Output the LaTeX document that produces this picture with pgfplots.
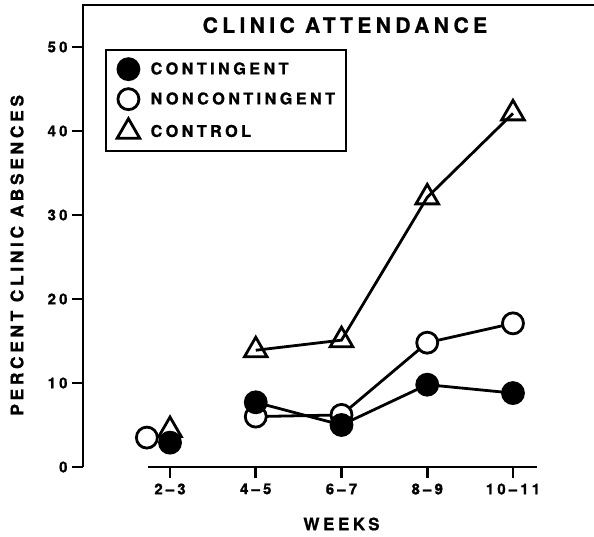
\documentclass[border=0pt]{standalone}
\usepackage{fontspec}
\setmainfont{TeX Gyre Heros}[LetterSpace=21, BoldFeatures={FakeBold=1}]
\usepackage{pgfplots}
\pgfplotsset{compat=1.18}
\usetikzlibrary{calc}
\begin{document}
\begin{tikzpicture}
\begin{axis}[
  name=ax,
  scale only axis,
  width=511pt, height=462pt,
  xmin=-1.015, xmax=4.945,
  ymin=0, ymax=55,
  axis line style={draw=none},
  tick pos=left,
  tick align=outside,
  major tick length=11pt,
  every tick/.style={black, line width=2.6pt},
  xtick={0,1,2,3,4},
  xticklabels={2--3,4--5,6--7,8--9,10--11},
  ytick={0,10,20,30,40,50},
  ticklabel style={font=\fontsize{15}{16}\selectfont\bfseries},
  /pgf/number format/assume math mode=true,
  xticklabel style={yshift=-2pt},
  yticklabel style={xshift=-1pt},
  clip=false,
  unbounded coords=jump,
  reverse legend,
  legend style={at={(axis cs:-0.758,49.76)}, anchor=north west,
    draw=black, line width=2.3pt, inner xsep=11pt, inner ysep=8.5pt,
    nodes={inner sep=0pt},
    column sep=11pt,
    row sep=9pt,
    font=\fontsize{16.2}{17}\selectfont\bfseries,
    legend cell align=left},
  legend image code/.code={\path[draw=none, fill=none] (-10.5pt,-10.5pt) rectangle (10.5pt,10.5pt);
    \draw[#1] plot coordinates {(0pt,0pt)};},
]
% control
\addplot[black, line width=2.8pt, mark=triangle, mark size=13pt, mark options={fill=white, line width=2.8pt}]
  coordinates {(0,4.4) (0.5,nan) (1,13.9) (2,15.1) (3,32.1) (4,42.1)};
\addlegendentry{CONTROL}
% noncontingent
\addplot[black, line width=2.8pt, mark=*, mark size=10.5pt, mark options={fill=white, line width=2.8pt}]
  coordinates {(-0.27,3.5) (0.5,nan) (1,6.0) (2,6.2) (3,14.8) (4,17.1)};
\addlegendentry{NONCONTINGENT}
% contingent
\addplot[black, line width=2.8pt, mark=*, mark size=10.5pt, mark options={fill=black}]
  coordinates {(0,2.9) (0.5,nan) (1,7.7) (2,5.0) (3,9.8) (4,8.8)};
\addlegendentry{CONTINGENT}
\draw[line width=2.8pt] (axis cs:-1.015,0) -- (axis cs:-1.015,55) -- (axis cs:4.945,55);
\draw[line width=2.8pt] (axis cs:-0.257,0) -- (axis cs:4.28,0);
\node[font=\fontsize{21}{22}\selectfont\bfseries] at (axis cs:2.04,52.6) {CLINIC ATTENDANCE};
\node[font=\fontsize{17.4}{18}\selectfont\bfseries, rotate=90, xshift=0pt, yshift=66pt] at (axis cs:-1.015,25.2) {PERCENT CLINIC ABSENCES};
\node[font=\fontsize{17}{18}\selectfont\bfseries, yshift=-57pt] at (axis cs:2,0) {WEEKS};
\end{axis}
\pgfresetboundingbox
\path[use as bounding box] ($(ax.south west)+(-83pt,-70pt)$) rectangle ($(ax.north east)+(0pt,5pt)$);
\end{tikzpicture}
\end{document}
